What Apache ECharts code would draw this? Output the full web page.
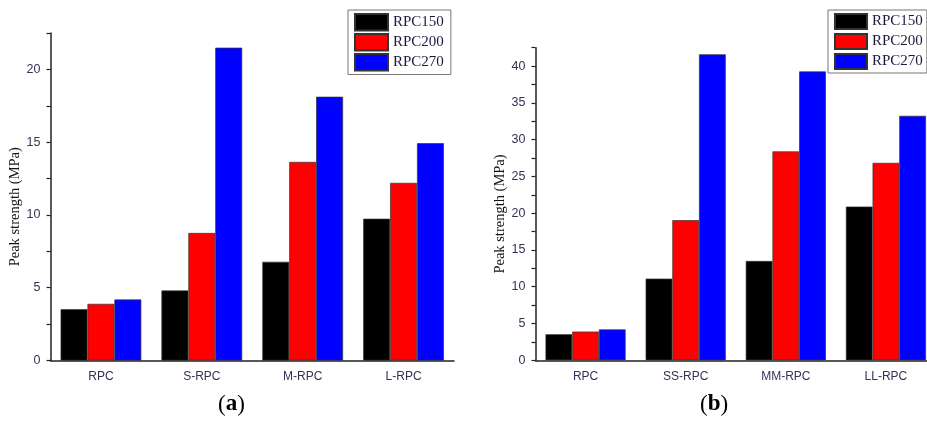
<!DOCTYPE html>
<html>
<head>
<meta charset="utf-8">
<script src="https://cdn.jsdelivr.net/npm/echarts@6/dist/echarts.min.js"></script>
<style>
  html, body { margin: 0; padding: 0; background: #fff; }
  #chart { width: 927px; height: 421px; }
</style>
</head>
<body>
<div id="chart"></div>
<script>
// categories for the two panels
const categoriesA = ['RPC', 'S-RPC', 'M-RPC', 'L-RPC']
const categoriesB = ['RPC', 'SS-RPC', 'MM-RPC', 'LL-RPC']
const seriesNames = ['RPC150', 'RPC200', 'RPC270']

// (a) peak strength, MPa
const rpc150A = [3.52, 4.81, 6.78, 9.74]
const rpc200A = [3.89, 8.76, 13.64, 12.2]
const rpc270A = [4.19, 21.49, 18.12, 14.93]

// (b) peak strength, MPa
const rpc150B = [3.54, 11.1, 13.5, 20.9]
const rpc200B = [3.9, 19.05, 28.4, 26.84]
const rpc270B = [4.2, 41.6, 39.27, 33.24]

const colors = ['#000000', '#ff0000', '#0000ff']
const tickColor = '#333355'

const yAxis = (grid, max, gap) => {
  return {
    type: 'value',
    gridIndex: grid,
    min: 0,
    max: max,
    interval: 2.5,
    name: 'Peak strength (MPa)',
    nameLocation: 'middle',
    nameGap: gap,
    nameTextStyle: {
      fontFamily: 'Liberation Serif',
      fontSize: 14.5,
      color: '#111',
      padding: [0, 20, 0, 0], // push the title a bit down
    },
    axisLine: { show: true, lineStyle: { color: '#222', width: 1.5 }},
    axisTick: { show: true, length: 4, lineStyle: { color: '#222', width: 1.2 }},
    axisLabel: {
      margin: 10,
      fontFamily: 'Liberation Sans',
      fontSize: 12.5,
      color: tickColor,
      formatter: (v) => (v % 5 === 0 ? String(v) : ''),
    },
    splitLine: { show: false },
  }
}

// main axis: labels + ticks under each category
const xAxisMain = (grid, data) => {
  return {
    type: 'category',
    gridIndex: grid,
    data: data,
    axisLine: { lineStyle: { color: '#222', width: 1.5 }},
    axisTick: { alignWithLabel: true, length: 6, lineStyle: { color: '#222', width: 1.2 }},
    axisLabel: { margin: 10, fontFamily: 'Liberation Sans', fontSize: 12, color: tickColor },
  }
}

// second axis only for the short ticks between categories
const xAxisEdges = (grid, data) => {
  return {
    type: 'category',
    gridIndex: grid,
    position: 'top',
    data: data,
    axisLine: { show: false, onZero: true },
    axisTick: { inside: true, length: 3.5, lineStyle: { color: '#222', width: 1.2 }},
    axisLabel: { show: false },
  }
}

const bars = (values, i, xIdx, yIdx) => {
  return {
    name: seriesNames[i],
    type: 'bar',
    xAxisIndex: xIdx,
    yAxisIndex: yIdx,
    data: values,
    barGap: '0%',
    barCategoryGap: '20%',
    itemStyle: { color: colors[i], borderColor: '#333', borderWidth: 0.7 },
  }
}

const legend = (left, itemW, itemH, gap, fontSize, padR) => {
  return {
    data: seriesNames,
    orient: 'vertical',
    left: left,
    top: 10,
    icon: 'rect',
    itemWidth: itemW,
    itemHeight: itemH,
    itemGap: gap,
    padding: [3, padR, 3, 6],
    borderColor: '#777',
    borderWidth: 1,
    textStyle: { fontFamily: 'Liberation Serif', fontSize: fontSize, color: '#1a1a40', lineHeight: itemH },
  }
}

const panelLabel = (x, letter) => {
  return {
    type: 'text',
    left: x,
    top: 393,
    style: {
      text: '{p|(}{l|' + letter + '}{p|)}',
      rich: {
        p: { fontFamily: 'Liberation Serif', fontSize: 23, fill: '#000' },
        l: { fontFamily: 'Liberation Serif', fontSize: 23, fontWeight: 'bold', fill: '#000' },
      },
    },
  }
}

const option = {
  animation: false,
  backgroundColor: '#fff',
  grid: [
    { left: 50.5, top: 33, right: 473, bottom: 60.5, outerBoundsMode: 'none' },
    { left: 535.5, top: 47.7, right: -9, bottom: 60.7, outerBoundsMode: 'none' },
  ],
  legend: [legend(348, 33, 16.5, 1.5, 15, 7), legend(828, 32, 15, 3, 15, 4)],
  xAxis: [
    xAxisMain(0, categoriesA),
    xAxisEdges(0, categoriesA),
    xAxisMain(1, categoriesB),
    xAxisEdges(1, categoriesB),
  ],
  yAxis: [yAxis(0, 22.5, 23), yAxis(1, 42.5, 25)],
  series: [
    bars(rpc150A, 0, 0, 0),
    bars(rpc200A, 1, 0, 0),
    bars(rpc270A, 2, 0, 0),
    bars(rpc150B, 0, 2, 1),
    bars(rpc200B, 1, 2, 1),
    bars(rpc270B, 2, 2, 1),
  ],
  graphic: [panelLabel(218, 'a'), panelLabel(700, 'b')],
}

const chart = echarts.init(document.getElementById('chart'))
chart.setOption(option)
</script>
</body>
</html>
